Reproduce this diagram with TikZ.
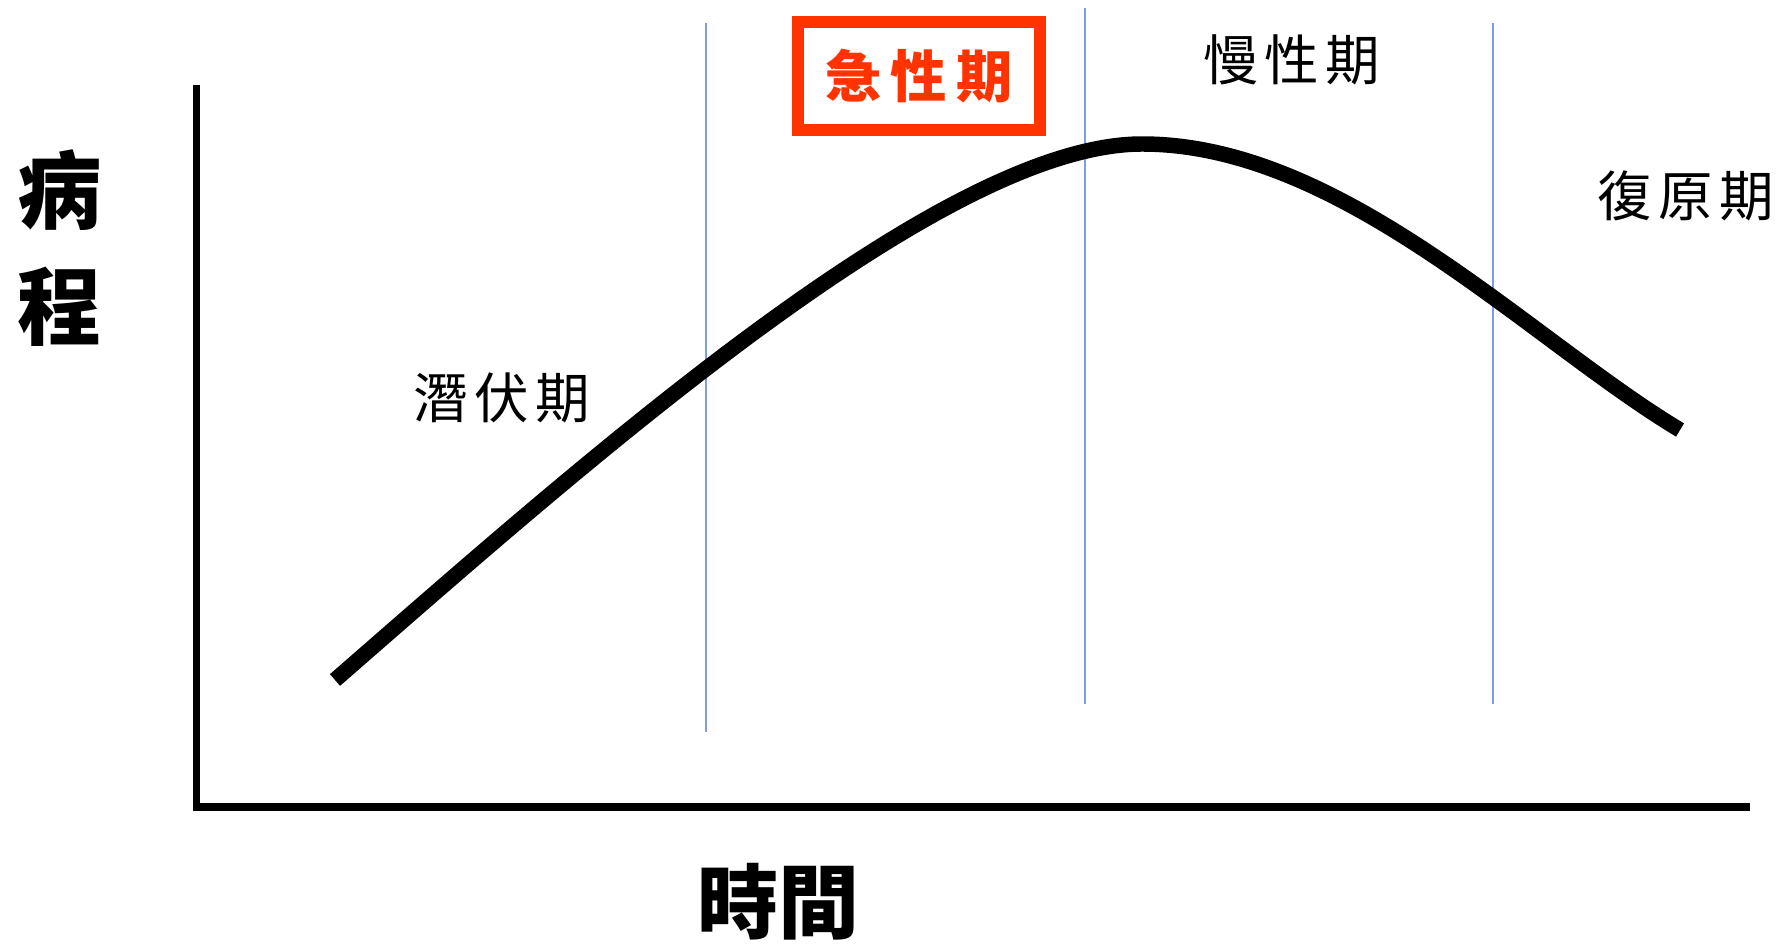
\documentclass[tikz,border=0pt]{standalone}
\usepackage{fontspec}
\newfontfamily\cjk{Noto Sans CJK TC}
\newfontfamily\cjkwide[LetterSpace=12]{Noto Sans CJK TC}
\usepackage{xcolor}
\usepackage{tikz}
\definecolor{acutered}{RGB}{255,51,0}
\definecolor{phaseblue}{RGB}{125,155,235}

\begin{document}
\begin{tikzpicture}[x=0.01cm,y=-0.01cm,
  axis/.style={line width=2.1pt},
  divider/.style={phaseblue,line width=0.6pt},
  phase/.style={inner sep=0pt,font=\cjkwide\fontsize{15.5pt}{18pt}\selectfont}]

  \useasboundingbox (0,0) rectangle (1780,946);

  %% axes
  \coordinate (o) at (196.5,807);
  \coordinate (ytop) at (196.5,85);
  \coordinate (xend) at (1750,807);
  \draw[axis] (ytop)--(o)--(xend);
  \node[inner sep=0pt,align=center,font=\cjk\bfseries\fontsize{24pt}{33pt}\selectfont] (ylab) at (60,248) {病\\程};
  \node[inner sep=0pt,font=\cjk\bfseries\fontsize{23pt}{26pt}\selectfont] (xlab) at (778,902) {時間};

  %% phase dividers
  \draw[divider] (706,23)--(706,732);
  \draw[divider] (1085,8)--(1085,704);
  \draw[divider] (1493,23)--(1493,704);

  %% course of disease
  \draw[line width=4.4pt] (335,680) .. controls (585,462) and (942,144) .. (1142,144) % rise
    .. controls (1342,144) and (1530,340) .. (1680,430); % decline

  %% labels
  \node[phase] (latent) at (502,398) {潛伏期};
  \node[draw=acutered,line width=3.4pt,minimum width=242*0.01cm,minimum height=108*0.01cm,
    inner sep=0pt] (acutebox) at (919,76) {};
  \node[inner sep=0pt,text=acutered,font=\cjk\bfseries\fontsize{16pt}{18pt}\selectfont] (acute) at (acutebox) {急\,性\,期};
  \node[phase] (chronic) at (1292,60) {慢性期};
  \node[phase] (recovery) at (1686,196) {復原期};

\end{tikzpicture}
\end{document}
